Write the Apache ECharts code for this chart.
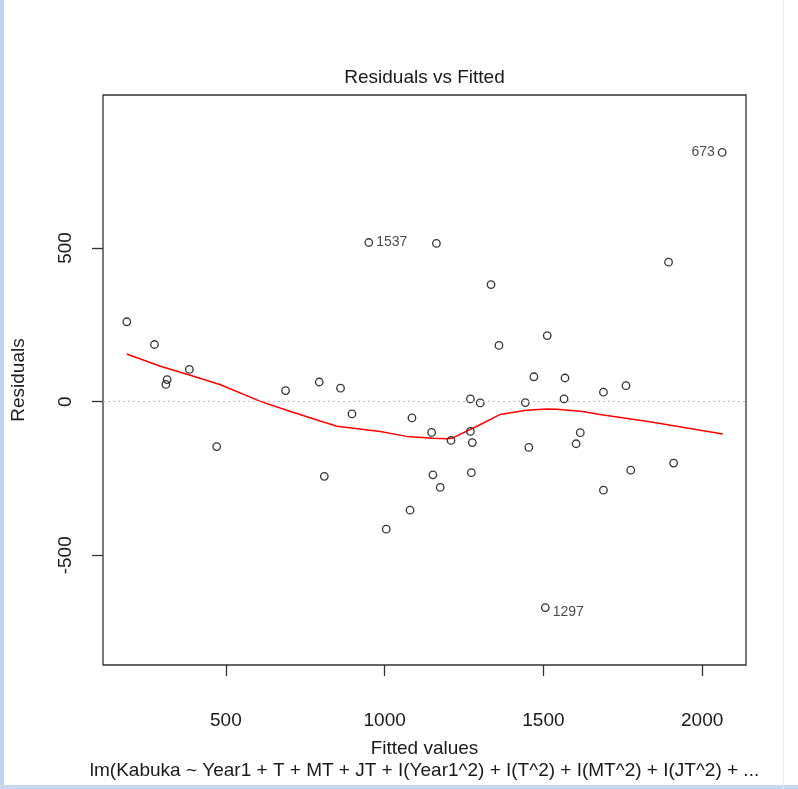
<!DOCTYPE html>
<html>
<head>
<meta charset="utf-8">
<script src="https://cdn.jsdelivr.net/npm/echarts@6/dist/echarts.min.js"></script>
<style>
  html, body { margin: 0; padding: 0; background: #fff; }
  #chart { width: 798px; height: 789px; }
</style>
</head>
<body>
<div id="chart"></div>
<script>
// fitted values / residuals
const fitted = [188, 275, 311, 315, 385, 471, 688, 794, 810, 861, 897, 950,
  1005, 1080, 1086, 1148, 1152, 1163, 1175, 1209, 1270, 1270, 1273, 1276,
  1301, 1335, 1360, 1443, 1454, 1470, 1506, 1512, 1565, 1568, 1603, 1616,
  1689, 1689, 1760, 1775, 1894, 1910, 2063];
const residuals = [260, 186, 56, 72, 105, -146, 36, 64, -243, 44, -40, 518,
  -415, -353, -53, -100, -238, 515, -279, -126, 9, -97, -231, -133,
  -4, 381, 183, -3, -149, 81, -670, 215, 9, 77, -137, -101,
  31, -288, 52, -223, 454, -200, 811];
// observation ids shown next to the 3 largest residuals
const pointIds = { 11: '1537', 30: '1297', 42: '673' };

// lowess smoother (red line)
const smoothX = [188, 294, 388, 483, 609, 692, 797, 850, 986, 1070, 1154, 1196,
  1215, 1300, 1363, 1447, 1510, 1541, 1625, 1678, 1835, 2065];
const smoothY = [155, 115, 86, 55, 1, -28, -63, -80, -97, -113, -119, -121,
  -118, -75, -42, -28, -24, -25, -32, -42, -65, -105];

const xTicks = [500, 1000, 1500, 2000];
const yTicks = [-500, 0, 500];

const FONT = '"Liberation Sans", Arial, sans-serif';
const plotCenterX = (103 + 746) / 2;

const myChart = echarts.init(document.getElementById('chart'));

const scatterData = fitted.map((x, i) => {
  const item = { value: [x, residuals[i]] };
  if (pointIds[i]) {
    const left = pointIds[i] === '673';
    item.label = {
      show: true,
      formatter: pointIds[i],
      position: left ? 'left' : 'right',
      distance: 3,
      offset: pointIds[i] === '1297' ? [0, 5] : [0, 0],
      color: '#1a1a1a',
      fontSize: 14,
      fontFamily: FONT
    };
  }
  return item;
});

const option = {
  animation: false,
  title: {
    text: 'Residuals vs Fitted',
    left: plotCenterX,
    textAlign: 'center',
    top: 68,
    padding: 0,
    textStyle: { fontSize: 19, fontWeight: 'normal', color: '#1a1a1a', fontFamily: FONT }
  },
  grid: {
    left: 103, right: 52, top: 95, bottom: 124,
    show: true, borderColor: '#333', borderWidth: 1.3, backgroundColor: 'transparent'
  },
  xAxis: {
    type: 'value',
    min: 113, max: 2138,
    name: 'Fitted values',
    nameLocation: 'middle',
    nameGap: 84,
    nameTextStyle: { fontSize: 19, color: '#1a1a1a', fontFamily: FONT, verticalAlign: 'middle' },
    axisLine: { show: false, onZero: false },
    splitLine: { show: false },
    axisTick: { show: true, length: 11, customValues: xTicks, lineStyle: { color: '#333', width: 1.3 } },
    axisLabel: {
      customValues: xTicks, margin: 56, verticalAlign: 'middle',
      formatter: (v) => String(v),
      fontSize: 19, color: '#1a1a1a', fontFamily: FONT
    }
  },
  yAxis: {
    type: 'value',
    min: -857, max: 998,
    name: 'Residuals',
    nameLocation: 'middle',
    nameGap: 84,
    nameTextStyle: { fontSize: 19, color: '#1a1a1a', fontFamily: FONT, verticalAlign: 'middle' },
    axisLine: { show: false, onZero: false },
    splitLine: { show: false },
    axisTick: { show: true, length: 11, customValues: yTicks, lineStyle: { color: '#333', width: 1.3 } },
    axisLabel: {
      customValues: yTicks, rotate: 90, margin: 37, align: 'center', verticalAlign: 'middle',
      formatter: (v) => String(v),
      fontSize: 19, color: '#1a1a1a', fontFamily: FONT
    }
  },
  series: [
    {
      type: 'line',
      data: smoothX.map((x, i) => [x, smoothY[i]]),
      showSymbol: false,
      symbol: 'none',
      lineStyle: { color: '#ff0000', width: 1.5 },
      silent: true,
      z: 2,
      markLine: {
        silent: true,
        symbol: 'none',
        label: { show: false },
        lineStyle: { color: '#bbbbbb', type: [2, 3], width: 1 },
        data: [{ yAxis: 0 }]
      }
    },
    {
      type: 'scatter',
      data: scatterData,
      symbol: 'circle',
      symbolSize: 7.5,
      itemStyle: { color: 'rgba(255,255,255,0)', borderColor: '#000', borderWidth: 1.3 },
      z: 3
    }
  ],
  graphic: [
    {
      type: 'text',
      x: plotCenterX, y: 771,
      style: {
        text: 'lm(Kabuka ~ Year1 + T + MT + JT + I(Year1^2) + I(T^2) + I(MT^2) + I(JT^2) + ...',
        align: 'center', verticalAlign: 'middle',
        fontSize: 19, fill: '#1a1a1a', fontFamily: FONT
      }
    },
    // window chrome of the original screenshot
    { type: 'rect', shape: { x: 0, y: 0, width: 4, height: 789 }, style: { fill: '#bfd4ee' } },
    { type: 'rect', shape: { x: 0, y: 785, width: 798, height: 4 }, style: { fill: '#c6d8ef' } },
    { type: 'rect', shape: { x: 783, y: 0, width: 1, height: 789 }, style: { fill: '#e3ecf7' } }
  ]
};

myChart.setOption(option);
</script>
</body>
</html>
